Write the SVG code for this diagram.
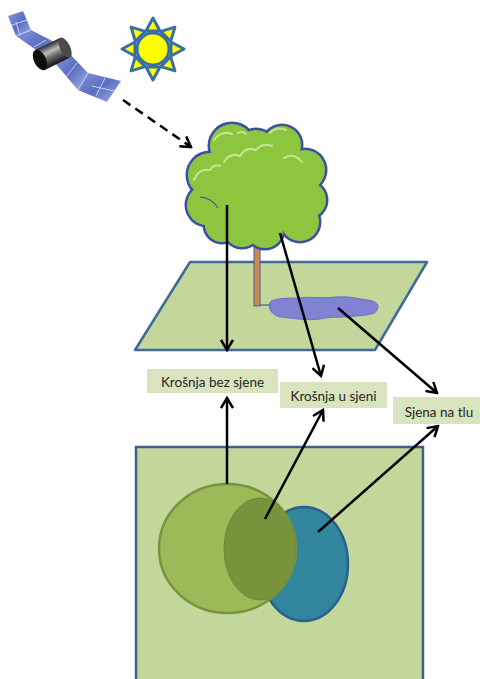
<svg xmlns="http://www.w3.org/2000/svg" width="480" height="679" viewBox="0 0 480 679">
  <defs>
    <style>
      .lbl rect { fill: #d7e4bd; }
      .lbl text { font-family: Lato, "Open Sans", "Liberation Sans", sans-serif; font-size: 13.5px; fill: #262626; text-anchor: middle; }
      .conn line { stroke: #000; stroke-width: 2.5; fill: none; marker-end: url(#arr); }
      .crown-edge circle { fill: #3b4ea3; }
      .crown-fill circle { fill: #8cc63f; }
      .hl { fill: none; stroke: #c8e592; stroke-width: 2; stroke-linecap: round; }
      .ray { fill: #ffff00; stroke: #3b6ea5; stroke-width: 3; stroke-linejoin: round; }
      .grid { stroke: #c9d2f2; stroke-width: 1; fill: none; }
    </style>
    <marker id="arr" markerUnits="userSpaceOnUse" markerWidth="14" markerHeight="14" refX="12" refY="7" orient="auto" viewBox="0 0 14 14">
      <path d="M2,1 L12,7 L2,13" fill="none" stroke="#000" stroke-width="2.5"/>
    </marker>
    <linearGradient id="panelGrad" x1="0" y1="0" x2="1" y2="1">
      <stop offset="0" stop-color="#8796dc"/>
      <stop offset="0.5" stop-color="#5a6dc0"/>
      <stop offset="1" stop-color="#a7b3ea"/>
    </linearGradient>
    <linearGradient id="cylGrad" x1="0" y1="0" x2="0" y2="1">
      <stop offset="0" stop-color="#2a2a2a"/>
      <stop offset="0.35" stop-color="#bdbdbd"/>
      <stop offset="0.6" stop-color="#6a6a6a"/>
      <stop offset="1" stop-color="#151515"/>
    </linearGradient>
    <clipPath id="greenClip">
      <ellipse cx="227.5" cy="548.5" rx="68.5" ry="64.5"/>
    </clipPath>
    <polygon id="rayShape" class="ray" points="-7,-18 7,-18 0,-31"/>
  </defs>

  <!-- satellite -->
  <g id="satellite">
    <polygon points="8,16 23,11 31,30 16,36" fill="url(#panelGrad)"/>
    <polygon points="16,36 31,30 60,45 51,60" fill="url(#panelGrad)"/>
    <polygon points="55,63 67,51 88,73 78,90" fill="url(#panelGrad)"/>
    <polygon points="78,90 88,73 121,81 107,102" fill="url(#panelGrad)"/>
    <path class="grid" d="M16,36 L31,30 M12,25 L27,20 M34,47 L46,40 M78,90 L88,73 M66,77 L77,63 M96,96 L105,78 M92,86 L114,91 M20,35 L16,22"/>
    <g transform="translate(40,60) rotate(-26)">
      <rect x="0" y="-11" width="28" height="22" fill="url(#cylGrad)"/>
      <ellipse cx="28" cy="0" rx="5" ry="11" fill="#4a4a4a"/>
      <ellipse cx="0" cy="0" rx="6" ry="11" fill="#0d0d0d"/>
    </g>
  </g>

  <!-- sun -->
  <g id="sun" transform="translate(153,49)">
    <use href="#rayShape"/>
    <use href="#rayShape" transform="rotate(45)"/>
    <use href="#rayShape" transform="rotate(90)"/>
    <use href="#rayShape" transform="rotate(135)"/>
    <use href="#rayShape" transform="rotate(180)"/>
    <use href="#rayShape" transform="rotate(225)"/>
    <use href="#rayShape" transform="rotate(270)"/>
    <use href="#rayShape" transform="rotate(315)"/>
    <circle r="16" fill="#ffff00" stroke="#3b6ea5" stroke-width="3"/>
  </g>

  <!-- ground plane -->
  <g id="ground">
    <polygon points="190,262 427,262 375,350 135,350" fill="#c4d79b" stroke="#3f6a9a" stroke-width="2.5" stroke-linejoin="round"/>
    <path d="M270,304 C268,299 284,298 298,298 C312,296 324,299 336,297 C350,296 358,299 368,300 C376,301 380,305 377,310 C375,315 366,315 356,316 C344,318 332,316 320,319 C306,321 292,318 280,317 C272,315 268,309 270,304 Z" fill="#8082d2" stroke="#6c70c8" stroke-width="1"/>
  </g>

  <!-- tree -->
  <g id="tree">
    <rect x="254" y="238" width="6" height="68" fill="#c98c4f" stroke="#4b5aa5" stroke-width="1"/>
    <path d="M260,305 L270,305" stroke="#4b5aa5" stroke-width="1.2"/>
    <g class="crown-edge">
      <circle cx="232" cy="146" r="24.5"/>
      <circle cx="282" cy="145" r="21.5"/>
      <circle cx="256" cy="150" r="22.5"/>
      <circle cx="210" cy="175" r="24.5"/>
      <circle cx="207" cy="205" r="22.5"/>
      <circle cx="222" cy="225" r="19.5"/>
      <circle cx="242" cy="229" r="20.5"/>
      <circle cx="265" cy="230" r="20.5"/>
      <circle cx="300" cy="222" r="21.5"/>
      <circle cx="305" cy="170" r="22.5"/>
      <circle cx="308" cy="200" r="20.5"/>
      <circle cx="258" cy="190" r="45"/>
    </g>
    <g class="crown-fill">
      <circle cx="232" cy="146" r="22"/>
      <circle cx="282" cy="145" r="19"/>
      <circle cx="256" cy="150" r="20"/>
      <circle cx="210" cy="175" r="22"/>
      <circle cx="207" cy="205" r="20"/>
      <circle cx="222" cy="225" r="17"/>
      <circle cx="242" cy="229" r="18"/>
      <circle cx="265" cy="230" r="18"/>
      <circle cx="300" cy="222" r="19"/>
      <circle cx="305" cy="170" r="20"/>
      <circle cx="308" cy="200" r="18"/>
      <circle cx="258" cy="190" r="45"/>
    </g>
    <path d="M200,197 Q212,198 218,208" fill="none" stroke="#3b4ea3" stroke-width="1.2"/>
    <path class="hl" d="M214,140 Q222,130 232,134 M238,133 Q242,130 246,134"/>
    <path class="hl" d="M224,162 Q230,152 240,156 Q246,146 256,150 Q262,142 272,146"/>
    <path class="hl" d="M194,180 Q198,168 210,170 Q214,164 220,166"/>
    <path class="hl" d="M270,133 Q276,126 286,130"/>
    <path class="hl" d="M284,158 Q294,152 302,162"/>
  </g>

  <!-- lower panel -->
  <g id="panel">
    <rect x="136" y="447" width="287" height="250" fill="#c4d79b" stroke="#3f5f8a" stroke-width="2.5"/>
    <ellipse cx="304" cy="564" rx="44" ry="57" fill="#31859c" stroke="#2e5e8c" stroke-width="2.5"/>
    <ellipse cx="227.5" cy="548.5" rx="68.5" ry="64.5" fill="#9bbb59" stroke="#77933c" stroke-width="2.5"/>
    <ellipse cx="260" cy="549" rx="36" ry="51" fill="#77933c" stroke="#6c8736" stroke-width="1" clip-path="url(#greenClip)"/>
  </g>

  <!-- labels -->
  <g id="lbl-bez-sjene" class="lbl">
    <rect x="147" y="369" width="131" height="24"/>
    <text x="212.5" y="387">Krošnja bez sjene</text>
  </g>
  <g id="lbl-u-sjeni" class="lbl">
    <rect x="280" y="382" width="107" height="26"/>
    <text x="333.5" y="401">Krošnja u sjeni</text>
  </g>
  <g id="lbl-sjena-tlu" class="lbl">
    <rect x="393" y="397" width="87" height="27"/>
    <text x="439" y="417">Sjena na tlu</text>
  </g>

  <!-- connectors -->
  <g id="connectors" class="conn">
    <line x1="123" y1="100" x2="191" y2="147" stroke-dasharray="9,6"/>
    <line x1="227" y1="205" x2="227" y2="350"/>
    <line x1="280" y1="233" x2="321" y2="376"/>
    <line x1="338" y1="308" x2="437" y2="393"/>
    <line x1="227" y1="484" x2="227" y2="398"/>
    <line x1="265" y1="519" x2="323" y2="410"/>
    <line x1="318" y1="532" x2="438" y2="426"/>
  </g>
</svg>
